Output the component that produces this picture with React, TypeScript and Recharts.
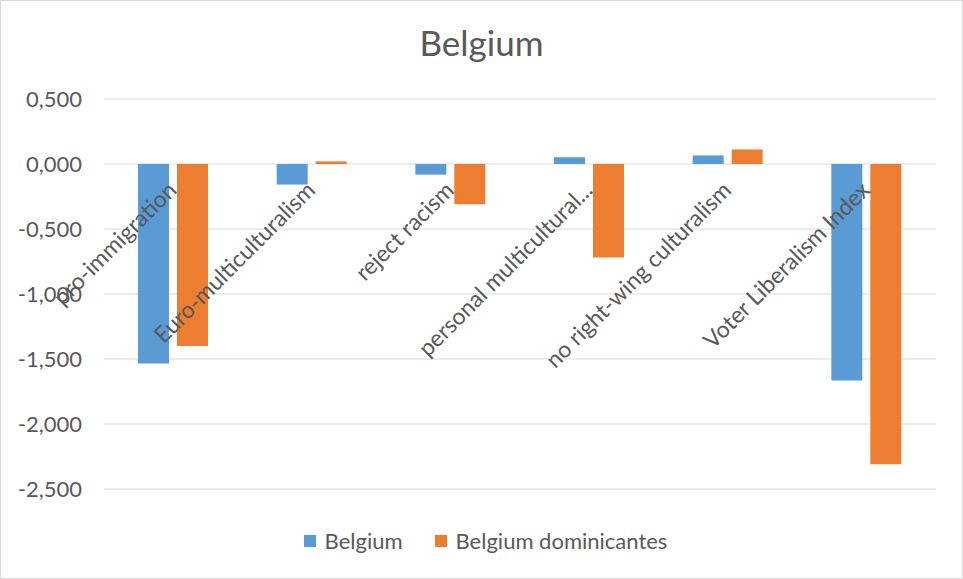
import { BarChart, Bar, XAxis, YAxis, CartesianGrid } from "recharts"

const categories = [
  "pro-immigration",
  "Euro-multiculturalism",
  "reject racism",
  "personal multicultural...",
  "no right-wing culturalism",
  "Voter Liberalism Index",
]
const belgium = [-1.535, -0.158, -0.082, 0.052, 0.066, -1.665]
const dominicantes = [-1.4, 0.02, -0.31, -0.72, 0.112, -2.31]
const yTicks = [0.5, 0, -0.5, -1, -1.5, -2, -2.5]

const data = categories.map((name, i) => ({
  name,
  belgium: belgium[i],
  dominicantes: dominicantes[i],
}))

const W = 961
const H = 577
const margin = { top: 98, right: 26, bottom: 88, left: 0 }
const xAxisH = 1
const yMax = 0.5
const yMin = -2.5
const plotH = H - margin.top - margin.bottom - xAxisH
const zeroY = margin.top + (plotH * yMax) / (yMax - yMin)

const font = "Lato, 'Open Sans', sans-serif"
const gray = "#595959"

const fmt = (v: number) => v.toFixed(3).replace(".", ",")

function CategoryTick(props: any) {
  const { x, payload } = props
  const ax = x - 1
  const ay = zeroY + 22
  return (
    <text
      x={ax}
      y={ay}
      textAnchor="end"
      fill={gray}
      fontSize={23}
      fontFamily={font}
      transform={`rotate(-45 ${ax} ${ay})`}
      dy="0.35em"
    >
      {payload.value}
    </text>
  )
}

const legendItems = [
  { label: "Belgium", color: "#5B9BD5" },
  { label: "Belgium dominicantes", color: "#ED7D31" },
]

export default function App() {
  return (
    <div
      style={{
        position: "absolute",
        left: 0,
        top: 0,
        width: W,
        height: H,
        border: "1px solid #d9d9d9",
        background: "#fff",
      }}
    >
      <div
        style={{
          position: "absolute",
          top: 20,
          width: "100%",
          textAlign: "center",
          fontFamily: font,
          fontSize: 35,
          color: gray,
        }}
      >
        Belgium
      </div>
      <BarChart width={W} height={H} data={data} margin={margin} barSize={31} barGap={8}>
        <CartesianGrid vertical={false} stroke="#d9d9d9" strokeWidth={1} />
        <XAxis
          dataKey="name"
          axisLine={false}
          tickLine={false}
          height={xAxisH}
          tick={<CategoryTick />}
          interval={0}
        />
        <YAxis
          domain={[yMin, yMax]}
          ticks={yTicks}
          tickFormatter={fmt}
          axisLine={false}
          tickLine={false}
          tickSize={0}
          tickMargin={22}
          width={103}
          tick={{ fill: gray, fontSize: 22, fontFamily: font }}
        />
        <Bar dataKey="belgium" name="Belgium" fill="#5B9BD5" isAnimationActive={false} />
        <Bar dataKey="dominicantes" name="Belgium dominicantes" fill="#ED7D31" isAnimationActive={false} />
      </BarChart>
      <div
        style={{
          position: "absolute",
          top: 526,
          left: 4,
          width: "100%",
          display: "flex",
          justifyContent: "center",
          gap: 32,
          fontFamily: font,
          fontSize: 22,
          color: gray,
        }}
      >
        {legendItems.map((it) => (
          <div key={it.label} style={{ display: "flex", alignItems: "center" }}>
            <span style={{ width: 12, height: 12, background: it.color, display: "inline-block", marginRight: 9 }} />
            {it.label}
          </div>
        ))}
      </div>
    </div>
  )
}
